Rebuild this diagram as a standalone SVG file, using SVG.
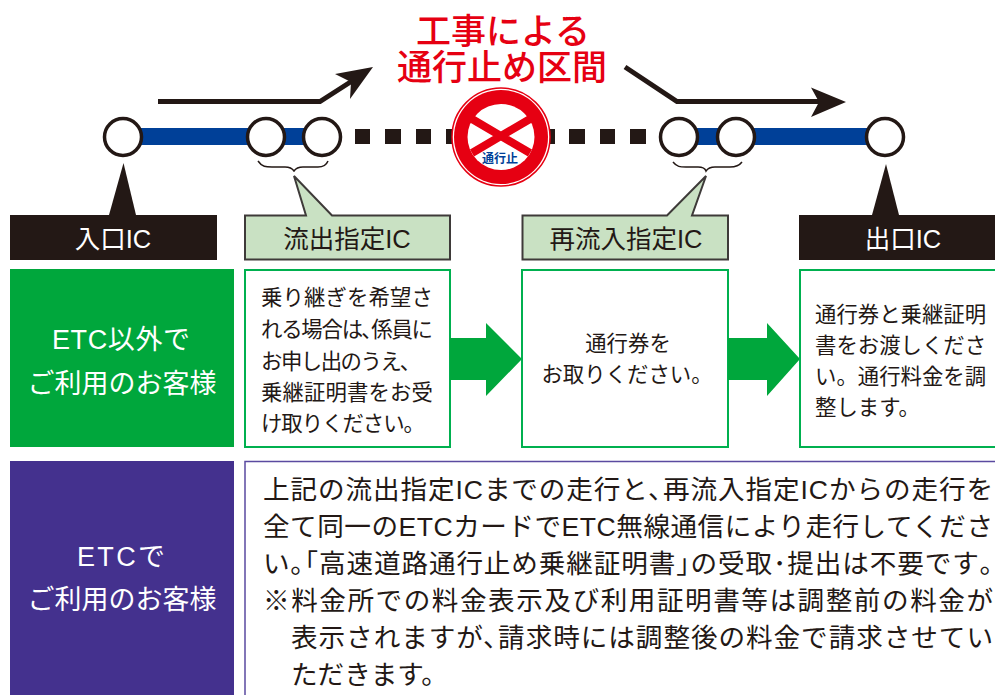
<svg xmlns="http://www.w3.org/2000/svg" width="995" height="695" viewBox="0 0 995 695">
<style>
text{font-family:"Liberation Sans","Noto Sans CJK JP",sans-serif;fill:#231815}
.ic{fill:#fff;stroke:#231815;stroke-width:3.5}
.lab{font-size:25.5px;text-anchor:middle}
.side{font-size:27px;text-anchor:middle;fill:#fff}
.b{font-size:21.4px}
.m{font-size:26.6px}
.gbox{fill:#fff;stroke:#00b04f;stroke-width:2}
.cal{fill:#c9e1c3;stroke:#3e3a39;stroke-width:2}
.br{fill:none;stroke:#231815;stroke-width:1.5}
</style>
<rect width="995" height="695" fill="#fff"/>
<g id="connectors">
<rect x="140" y="128" width="165" height="17" fill="#004098"/>
<rect x="680" y="128" width="195" height="17" fill="#004098"/>
<g fill="#231815">
<rect x="355" y="129" width="15" height="15"/><rect x="385" y="129" width="16" height="15"/><rect x="416" y="129" width="15" height="15"/><rect x="446" y="129" width="15" height="15"/><rect x="540" y="129" width="15" height="15"/><rect x="569" y="129" width="16" height="15"/><rect x="600" y="129" width="15" height="15"/><rect x="630" y="129" width="16" height="15"/>
</g>
<path d="M158 101.500H320L352 81" fill="none" stroke="#231815" stroke-width="5"/>
<path d="M373 67L335 74L351 82L350 99Z" fill="#231815"/>
<path d="M625 67L677 101.500H825" fill="none" stroke="#231815" stroke-width="5"/>
<path d="M846 102L811 87.500L819 102L811 117Z" fill="#231815"/>
<path class="br" d="M258 161C262 167 266 167 272 167H285C289 167 292 168 294 171C296 168 299 167 303 167H318C322 167 326 166 328 161"/>
<path class="br" d="M673 162C677 167 680 167 686 167H698C702 167 705 168 706 171C708 168 711 167 715 167H730C734 167 739 166 742 162"/>
</g>
<g id="node-entry">
<circle class="ic" cx="123" cy="137" r="18.500"/>
<path d="M123.500 163L109 215H136Z" fill="#231815"/>
<rect x="10" y="215" width="207" height="45" fill="#231815"/>
<text class="lab" x="113" y="248" style="fill:#fff">入口IC</text>
</g>
<g id="node-exit-ic">
<circle class="ic" cx="266" cy="137" r="18.500"/>
<circle class="ic" cx="322" cy="137" r="18.500"/>
<path class="cal" d="M245 215.500H306L294 176L332 215.500H450V259.500H245Z"/>
<text class="lab" x="347" y="248">流出指定IC</text>
</g>
<g id="node-closure">
<circle cx="501" cy="137" r="49" fill="#fff" stroke="#e60012" stroke-width="1.500"/>
<circle cx="501" cy="137" r="47" fill="#e60012"/>
<ellipse cx="501" cy="137" rx="33.500" ry="33" fill="#fff"/>
<path d="M472 119L530 153M530 119L472 153" stroke="#e60012" stroke-width="8" fill="none"/>
<text x="500" y="163" font-size="12px" font-weight="700" text-anchor="middle" style="fill:#004098">通行止</text>
</g>
<g id="node-reentry-ic">
<circle class="ic" cx="679" cy="137" r="18.500"/>
<circle class="ic" cx="736" cy="137" r="18.500"/>
<path class="cal" d="M522.500 215.500H667L706 176L692 215.500H728V259.500H522.500Z"/>
<text class="lab" x="626" y="248">再流入指定IC</text>
</g>
<g id="node-exit">
<circle class="ic" cx="885" cy="137" r="18.500"/>
<path d="M886 164L872 215H899Z" fill="#231815"/>
<rect x="799" y="215" width="196" height="45" fill="#231815"/>
<text class="lab" x="903" y="248" style="fill:#fff">出口IC</text>
</g>
<g id="title" style="font-weight:500">
<text x="503" y="44" font-size="35px" text-anchor="middle" style="fill:#e60012">工事による</text>
<text x="502" y="80" font-size="35px" text-anchor="middle" style="fill:#e60012">通行止め区間</text>
</g>
<g id="node-etc-other">
<rect x="10" y="269" width="224" height="178" fill="#00a73c"/>
<text class="side" x="121" y="349" textLength="138">ETC以外で</text>
<text class="side" x="122" y="393">ご利用のお客様</text>
</g>
<g id="node-etc">
<rect x="10" y="461" width="224" height="234" fill="#44318e"/>
<text class="side" x="121" y="566" textLength="88">ETCで</text>
<text class="side" x="122" y="609">ご利用のお客様</text>
</g>
<g id="node-step1">
<rect class="gbox" x="245" y="270" width="205" height="177"/>
<text class="b" x="261" y="305" textLength="172">乗り継ぎを希望さ</text>
<text class="b" x="261" y="337" textLength="172">れる場合は､係員に</text>
<text class="b" x="261" y="369" textLength="150">お申し出のうえ､</text>
<text class="b" x="261" y="400" textLength="172">乗継証明書をお受</text>
<text class="b" x="261" y="431" textLength="164">け取りください。</text>
</g>
<path id="arrow-1" d="M450 338H486V323L522 359L486 396V380H450Z" fill="#00a73c"/>
<g id="node-step2">
<rect class="gbox" x="522" y="270" width="206" height="177"/>
<text class="b" x="628" y="351" text-anchor="middle">通行券を</text>
<text class="b" x="627" y="382" text-anchor="middle">お取りください。</text>
</g>
<path id="arrow-2" d="M728 338H767V323L800 359L767 396V380H728Z" fill="#00a73c"/>
<g id="node-step3">
<rect class="gbox" x="800" y="270" width="200" height="177"/>
<text class="b" x="815" y="322">通行券と乗継証明</text>
<text class="b" x="815" y="353">書をお渡しくださ</text>
<text class="b" x="815" y="384">い。通行料金を調</text>
<text class="b" x="815" y="415">整します。</text>
</g>
<g id="node-etc-note">
<path d="M1000 461.500H245V695" fill="none" stroke="#5a4aa0" stroke-width="1.500"/>
<text class="m" x="263" y="499" textLength="730">上記の流出指定ICまでの走行と､再流入指定ICからの走行を</text>
<text class="m" x="263" y="536" textLength="730">全て同一のETCカードでETC無線通信により走行してくださ</text>
<text class="m" x="263" y="573" textLength="730">い｡｢高速道路通行止め乗継証明書｣の受取･提出は不要です｡</text>
<text class="m" x="263" y="610" textLength="730">※料金所での料金表示及び利用証明書等は調整前の料金が</text>
<text class="m" x="291" y="647" textLength="702">表示されますが､請求時には調整後の料金で請求させてい</text>
<text class="m" x="291" y="684">ただきます。</text>
</g>
</svg>
